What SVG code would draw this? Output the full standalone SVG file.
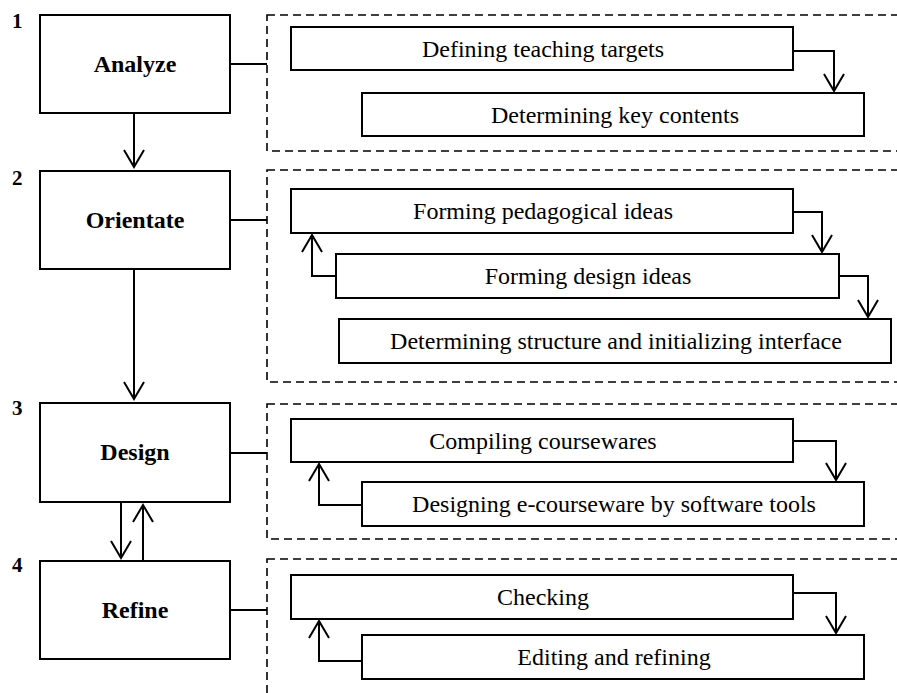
<svg xmlns="http://www.w3.org/2000/svg" width="897" height="693" viewBox="0 0 897 693">
<style>
.bg{fill:#fff}
.box{fill:#fff;stroke:#000;stroke-width:2}
.dash{fill:none;stroke:#000;stroke-width:1.6;stroke-dasharray:8 5}
.ln{fill:none;stroke:#000;stroke-width:2}
.arr{fill:none;stroke:#000;stroke-width:2;marker-end:url(#ah)}
.main{font-family:"Liberation Serif","Times New Roman",serif;font-weight:bold;font-size:24px;text-anchor:middle}
.num{font-family:"Liberation Serif","Times New Roman",serif;font-weight:bold;font-size:21px}
.sub{font-family:"Liberation Serif","Times New Roman",serif;font-size:24px;text-anchor:middle}
</style>
<defs>
<marker id="ah" markerUnits="userSpaceOnUse" viewBox="-20 -12 22 24" markerWidth="22" markerHeight="24" refX="0" refY="0" orient="auto">
<path d="M-17,-10 L0,0 L-17,10" fill="none" stroke="#000" stroke-width="2"/>
</marker>
</defs>
<rect class="bg" x="0" y="0" width="897" height="693"/>

<g id="panels">
<rect class="dash" x="267" y="15" width="660" height="136"/>
<rect class="dash" x="267" y="170" width="660" height="212"/>
<rect class="dash" x="267" y="404" width="660" height="135"/>
<rect class="dash" x="267" y="559" width="660" height="200"/>
</g>

<g id="connectors">
<line class="ln" x1="230" y1="64" x2="267" y2="64"/>
<line class="ln" x1="230" y1="220" x2="267" y2="220"/>
<line class="ln" x1="230" y1="453" x2="267" y2="453"/>
<line class="ln" x1="230" y1="610" x2="267" y2="610"/>
<line class="arr" x1="134" y1="113" x2="134" y2="167"/>
<line class="arr" x1="134" y1="269" x2="134" y2="399"/>
<line class="arr" x1="121" y1="502" x2="121" y2="558"/>
<line class="arr" x1="143" y1="561" x2="143" y2="505"/>
<polyline class="arr" points="793,51 834,51 834,91"/>
<polyline class="arr" points="793,212 822,212 822,252"/>
<polyline class="arr" points="839,276 868,276 868,317"/>
<polyline class="arr" points="336,276 312,276 312,235"/>
<polyline class="arr" points="793,441 836,441 836,480"/>
<polyline class="arr" points="362,505 319,505 319,464"/>
<polyline class="arr" points="793,593 836,593 836,633"/>
<polyline class="arr" points="362,661 319,661 319,621"/>
</g>

<g id="n1"><text class="num" x="12" y="28">1</text><rect class="box" x="40" y="15" width="190" height="98"/><text class="main" x="135" y="72">Analyze</text></g>
<g id="n2"><text class="num" x="12" y="185">2</text><rect class="box" x="40" y="171" width="190" height="98"/><text class="main" x="135" y="228">Orientate</text></g>
<g id="n3"><text class="num" x="12" y="415">3</text><rect class="box" x="40" y="403" width="190" height="99"/><text class="main" x="135" y="460">Design</text></g>
<g id="n4"><text class="num" x="12" y="572">4</text><rect class="box" x="40" y="561" width="190" height="98"/><text class="main" x="135" y="618">Refine</text></g>

<g id="a1"><rect class="box" x="291" y="27" width="502" height="43"/><text class="sub" x="543" y="57">Defining teaching targets</text></g>
<g id="a2"><rect class="box" x="362" y="93" width="502" height="43"/><text class="sub" x="615" y="123">Determining key contents</text></g>
<g id="b1"><rect class="box" x="291" y="189" width="502" height="44"/><text class="sub" x="543" y="219">Forming pedagogical ideas</text></g>
<g id="b2"><rect class="box" x="336" y="254" width="503" height="44"/><text class="sub" x="588" y="284">Forming design ideas</text></g>
<g id="b3"><rect class="box" x="339" y="319" width="552" height="44"/><text class="sub" x="616" y="349">Determining structure and initializing interface</text></g>
<g id="c1"><rect class="box" x="291" y="419" width="502" height="43"/><text class="sub" x="543" y="449">Compiling coursewares</text></g>
<g id="c2"><rect class="box" x="362" y="482" width="502" height="44"/><text class="sub" x="614" y="512">Designing e-courseware by software tools</text></g>
<g id="d1"><rect class="box" x="291" y="575" width="502" height="44"/><text class="sub" x="543" y="605">Checking</text></g>
<g id="d2"><rect class="box" x="362" y="635" width="502" height="44"/><text class="sub" x="614" y="665">Editing and refining</text></g>
</svg>
